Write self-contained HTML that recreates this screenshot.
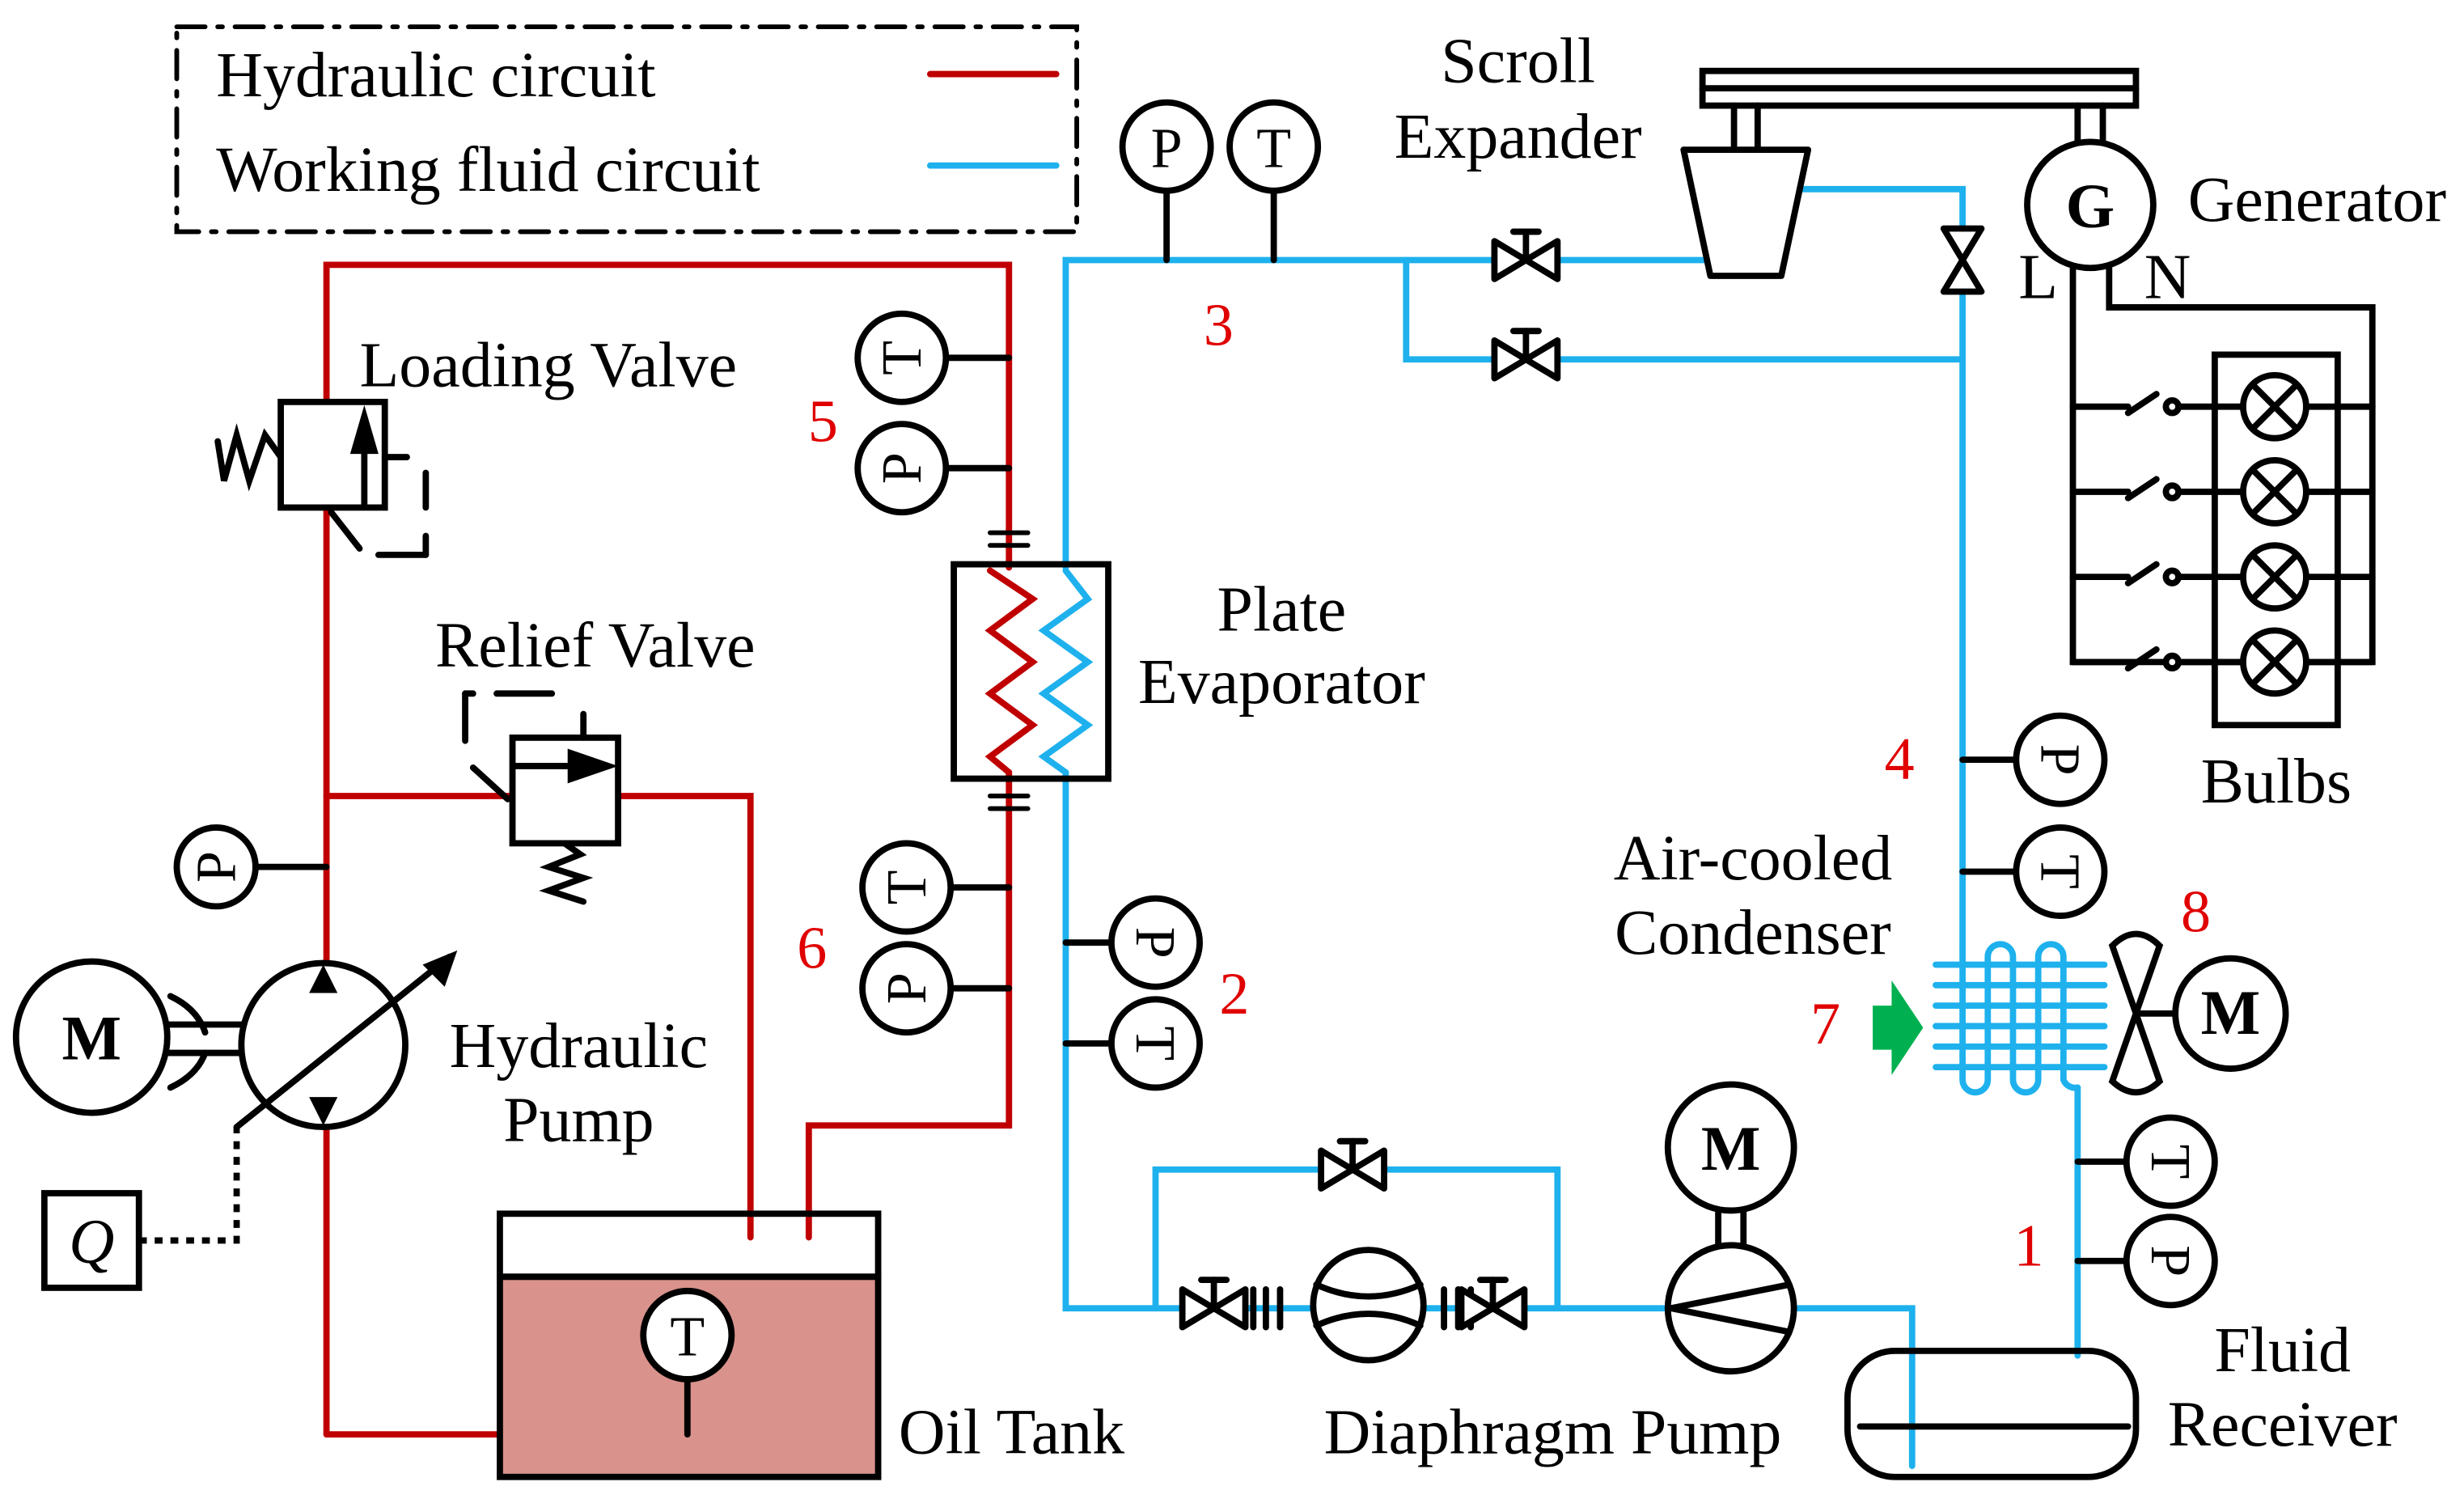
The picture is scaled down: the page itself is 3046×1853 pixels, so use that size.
<!DOCTYPE html>
<html><head><meta charset="utf-8"><style>
html,body{margin:0;padding:0;background:#fff;}
svg{display:block}
text{font-family:"Liberation Serif",serif;fill:#000}
</style></head><body>
<svg width="3046" height="1853" viewBox="0 0 1563 951" xmlns="http://www.w3.org/2000/svg">
<defs>
<g id="valveH"><path d="M-20,-12 L-20,12 L20,-12 L20,12 Z" fill="#fff" stroke="#000" stroke-width="4" stroke-linejoin="round"/><line x1="0" y1="0" x2="0" y2="-18" stroke="#000" stroke-width="4"/><line x1="-8" y1="-18" x2="8" y2="-18" stroke="#000" stroke-width="4"/></g>
</defs>
<g fill="none" stroke-linecap="round">
<rect x="112" y="17" width="571" height="130" stroke="#000" stroke-width="3" stroke-dasharray="18,8,3,8"/>
<line x1="590" y1="47" x2="670" y2="47" stroke="#c00000" stroke-width="4"/>
<line x1="590" y1="105" x2="670" y2="105" stroke="#1eb1ed" stroke-width="4"/>

<g stroke="#c00000" stroke-width="4">
<polyline points="207,910 207,168 640,168 640,360"/>
<polyline points="640,490 640,714 513,714 513,785"/>
<line x1="207" y1="910" x2="340" y2="910"/>
<polyline points="207,505 325,505"/>
<polyline points="392,505 476,505 476,785"/>
<polyline points="628,362 655,380 628,400 655,420 628,440 655,460 628,480 640,490"/>
</g>
<g stroke="#1eb1ed" stroke-width="4">
<polyline points="676,360 676,165 1085,165"/>
<polyline points="676,490 676,830 1058,830"/>
<polyline points="892,165 892,228 1245,228"/>
<polyline points="1140,120 1245,120 1245,600"/>
<polyline points="733,830 733,742 988,742 988,830"/>
<polyline points="1138,830 1213,830 1213,930"/>
<polyline points="1318,690 1318,860"/>
<polyline points="676,362 690,380 662,400 690,420 662,440 690,460 662,480 676,490"/>
<line x1="1228" y1="612" x2="1335" y2="612"/><line x1="1228" y1="625" x2="1335" y2="625"/>
<line x1="1228" y1="638" x2="1335" y2="638"/><line x1="1228" y1="651" x2="1335" y2="651"/>
<line x1="1228" y1="664" x2="1335" y2="664"/><line x1="1228" y1="677" x2="1335" y2="677"/>
<path d="M1245,600 L1245,685 A8,8 0 0 0 1261,685 L1261,607 A8,8 0 0 1 1277,607 L1277,685 A8,8 0 0 0 1293,685 L1293,607 A8,8 0 0 1 1309,607 L1309,685 A8,8 0 0 0 1318,690"/>
</g>
<rect x="605" y="358" width="98" height="136" stroke="#000" stroke-width="4"/>
<g stroke="#000" stroke-width="3"><line x1="628" y1="338" x2="652" y2="338"/><line x1="628" y1="346" x2="652" y2="346"/><line x1="628" y1="505" x2="652" y2="505"/><line x1="628" y1="513" x2="652" y2="513"/></g>

<g stroke="#000" stroke-width="4">
<rect x="178" y="255" width="66" height="67" fill="#fff"/>
<line x1="231" y1="320" x2="231" y2="280"/>
<polyline points="178,290 168,276 158,305 150,276 142,305 138,280"/>
<line x1="244" y1="290" x2="258" y2="290"/>
<line x1="270" y1="300" x2="270" y2="322" /><line x1="270" y1="340" x2="270" y2="352"/><line x1="240" y1="352" x2="270" y2="352"/>
<line x1="210" y1="325" x2="228" y2="348"/>
<rect x="325" y="468" width="67" height="67" fill="#fff"/>
<line x1="327" y1="486" x2="360" y2="486"/>
<polyline points="358,535 368,542 348,550 370,557 348,565 370,572"/>
<line x1="370" y1="468" x2="370" y2="453"/>
<line x1="295" y1="440" x2="295" y2="470"/><line x1="295" y1="440" x2="300" y2="440"/><line x1="315" y1="440" x2="350" y2="440"/>
<line x1="300" y1="487" x2="322" y2="507"/>
<line x1="162" y1="550" x2="207" y2="550"/>
<line x1="597" y1="227" x2="640" y2="227"/><line x1="597" y1="297" x2="640" y2="297"/>
<line x1="600" y1="563" x2="640" y2="563"/><line x1="600" y1="627" x2="640" y2="627"/>
<line x1="676" y1="598" x2="708" y2="598"/><line x1="676" y1="662" x2="708" y2="662"/>
<line x1="740" y1="118" x2="740" y2="165"/><line x1="808" y1="118" x2="808" y2="165"/>
<line x1="1245" y1="482" x2="1282" y2="482"/><line x1="1245" y1="553" x2="1282" y2="553"/>
<line x1="1318" y1="737" x2="1352" y2="737"/><line x1="1318" y1="800" x2="1352" y2="800"/>
<line x1="106" y1="650" x2="153" y2="650"/><line x1="106" y1="668" x2="153" y2="668"/>
<circle cx="205" cy="663" r="52" fill="#fff"/>
<line x1="150" y1="715" x2="285" y2="607"/>
<path d="M108,632 Q125,640 130,655 M108,690 Q125,682 130,668"/>
<circle cx="58" cy="658" r="48" fill="#fff"/>
<rect x="28" y="757" width="60" height="60"/>
<polyline points="88,787 150,787 150,715" stroke-dasharray="5,5" stroke-linecap="butt"/>
<rect x="317" y="810" width="240" height="127" fill="#d9928c"/>
<rect x="317" y="770" width="240" height="40" fill="none"/>
<line x1="436" y1="875" x2="436" y2="910"/>
<circle cx="436" cy="847" r="28" fill="#fff"/>
<rect x="1080" y="45" width="275" height="22" fill="#fff"/>
<line x1="1080" y1="56" x2="1355" y2="56"/>
<line x1="1100" y1="67" x2="1100" y2="95"/><line x1="1115" y1="67" x2="1115" y2="95"/>
<polygon points="1068,95 1147,95 1130,175 1085,175" fill="#fff" stroke-linejoin="round"/>
<line x1="1318" y1="67" x2="1318" y2="90"/><line x1="1334" y1="67" x2="1334" y2="90"/>
<circle cx="1326" cy="130" r="40" fill="#fff"/>
<polyline points="1315,170 1315,420 1423,420"/>
<polyline points="1338,170 1338,195 1505,195 1505,420 1463,420"/>
<rect x="1405" y="225" width="78" height="235"/>
<path d="M1355,643 L1340,600 Q1355,585 1370,600 Z M1355,643 L1340,686 Q1355,700 1370,686 Z" fill="#fff"/>
<line x1="1355" y1="643" x2="1380" y2="643"/>
<circle cx="1415" cy="643" r="35" fill="#fff"/>
<rect x="1172" y="857" width="183" height="80" rx="30"/>
<line x1="1180" y1="905" x2="1350" y2="905"/>
<line x1="1090" y1="768" x2="1090" y2="790"/><line x1="1106" y1="768" x2="1106" y2="790"/>
<circle cx="1098" cy="728" r="40" fill="#fff"/>
<circle cx="1098" cy="830" r="40" fill="#fff"/>
<polyline points="1135,815 1060,830 1135,845"/>
<circle cx="868" cy="828" r="35" fill="#fff"/>
<path d="M835,815 Q868,830 901,815 M835,841 Q868,826 901,841"/>
<line x1="795" y1="818" x2="795" y2="842"/><line x1="803" y1="818" x2="803" y2="842"/><line x1="812" y1="818" x2="812" y2="842"/>
<line x1="925" y1="818" x2="925" y2="842"/><line x1="933" y1="818" x2="933" y2="842"/><line x1="916" y1="818" x2="916" y2="842"/>
</g>
<polygon points="231,257 222,288 240,288" fill="#000"/>
<polygon points="392,486 360,475 360,497" fill="#000"/>
<polygon points="205,612 196,630 214,630" fill="#000"/>
<polygon points="205,714 196,696 214,696" fill="#000"/>
<polygon points="290,603 268,612 282,626" fill="#000"/>
<polygon points="1188,638 1200,638 1200,622 1220,652 1200,682 1200,666 1188,666" fill="#00b050"/>
<use href="#valveH" x="968" y="165"/>
<use href="#valveH" x="968" y="228"/>
<use href="#valveH" x="770" y="830"/>
<use href="#valveH" x="947" y="830"/>
<use href="#valveH" x="858" y="742"/>
<g transform="translate(1245,165) rotate(90)"><path d="M-20,-12 L-20,12 L20,-12 L20,12 Z" fill="#fff" stroke="#000" stroke-width="4" stroke-linejoin="round"/></g>
<g stroke="#000" stroke-width="4" fill="#fff">
<g id="b1"><line x1="1315" y1="258" x2="1350" y2="258"/><line x1="1350" y1="262" x2="1368" y2="250"/><circle cx="1378" cy="258" r="4"/><line x1="1382" y1="258" x2="1423" y2="258"/><line x1="1463" y1="258" x2="1505" y2="258"/><circle cx="1443" cy="258" r="20"/><path d="M1429,244 L1457,272 M1457,244 L1429,272"/></g>
<use href="#b1" y="54"/><use href="#b1" y="108"/><use href="#b1" y="162"/>
</g>
<g stroke="#000" stroke-width="4" fill="#fff">
<circle cx="137" cy="550" r="25"/>
<circle cx="572" cy="227" r="28"/><circle cx="572" cy="297" r="28"/>
<circle cx="575" cy="563" r="28"/><circle cx="575" cy="627" r="28"/>
<circle cx="733" cy="598" r="28"/><circle cx="733" cy="662" r="28"/>
<circle cx="740" cy="93" r="28"/><circle cx="808" cy="93" r="28"/>
<circle cx="1307" cy="482" r="28"/><circle cx="1307" cy="553" r="28"/>
<circle cx="1377" cy="737" r="28"/><circle cx="1377" cy="800" r="28"/>
</g>
</g>
<g font-size="41">
<text x="137" y="61">Hydraulic circuit</text>
<text x="137" y="121">Working fluid circuit</text>
<text x="228" y="245">Loading Valve</text>
<text x="276" y="423">Relief Valve</text>
<text x="367" y="677" text-anchor="middle">Hydraulic</text>
<text x="367" y="724" text-anchor="middle">Pump</text>
<text x="570" y="922">Oil Tank</text>
<text x="813" y="400" text-anchor="middle">Plate</text>
<text x="813" y="446" text-anchor="middle">Evaporator</text>
<text x="963" y="52" text-anchor="middle">Scroll</text>
<text x="963" y="100" text-anchor="middle">Expander</text>
<text x="1388" y="140">Generator</text>
<text x="1444" y="509" text-anchor="middle">Bulbs</text>
<text x="1112" y="558" text-anchor="middle">Air-cooled</text>
<text x="1112" y="605" text-anchor="middle">Condenser</text>
<text x="985" y="922" text-anchor="middle">Diaphragm Pump</text>
<text x="1448" y="870" text-anchor="middle">Fluid</text>
<text x="1448" y="917" text-anchor="middle">Receiver</text>
<text x="1293" y="189" text-anchor="middle">L</text>
<text x="1375" y="189" text-anchor="middle">N</text>
</g>
<g font-size="38" text-anchor="middle">
<text x="773" y="219" style="fill:#e00000">3</text>
<text x="522" y="280" style="fill:#e00000">5</text>
<text x="515" y="614" style="fill:#e00000">6</text>
<text x="783" y="643" style="fill:#e00000">2</text>
<text x="1205" y="494" style="fill:#e00000">4</text>
<text x="1393" y="591" style="fill:#e00000">8</text>
<text x="1158" y="662" style="fill:#e00000">7</text>
<text x="1287" y="803" style="fill:#e00000">1</text>
</g>
<g font-size="40" text-anchor="middle">
<text x="58" y="672" font-weight="bold">M</text>
<text x="1415" y="656" font-weight="bold">M</text>
<text x="1098" y="742" font-weight="bold">M</text>
<text x="1326" y="144" font-weight="bold">G</text>
<text x="58" y="801" font-style="italic">Q</text>
<text x="436" y="860" font-size="36">T</text>
<text x="740" y="106" font-size="36">P</text>
<text x="808" y="106" font-size="36">T</text>
</g>
<g font-size="36" text-anchor="middle">
<text transform="translate(137,550) rotate(-90)" y="12">P</text>
<text transform="translate(572,227) rotate(-90)" y="12">T</text>
<text transform="translate(572,297) rotate(-90)" y="12">P</text>
<text transform="translate(575,563) rotate(-90)" y="12">T</text>
<text transform="translate(575,627) rotate(-90)" y="12">P</text>
<text transform="translate(733,598) rotate(90)" y="12">P</text>
<text transform="translate(733,662) rotate(90)" y="12">T</text>
<text transform="translate(1307,482) rotate(90)" y="12">P</text>
<text transform="translate(1307,553) rotate(90)" y="12">T</text>
<text transform="translate(1377,737) rotate(90)" y="12">T</text>
<text transform="translate(1377,800) rotate(90)" y="12">P</text>
</g>
</svg>
</body></html>
